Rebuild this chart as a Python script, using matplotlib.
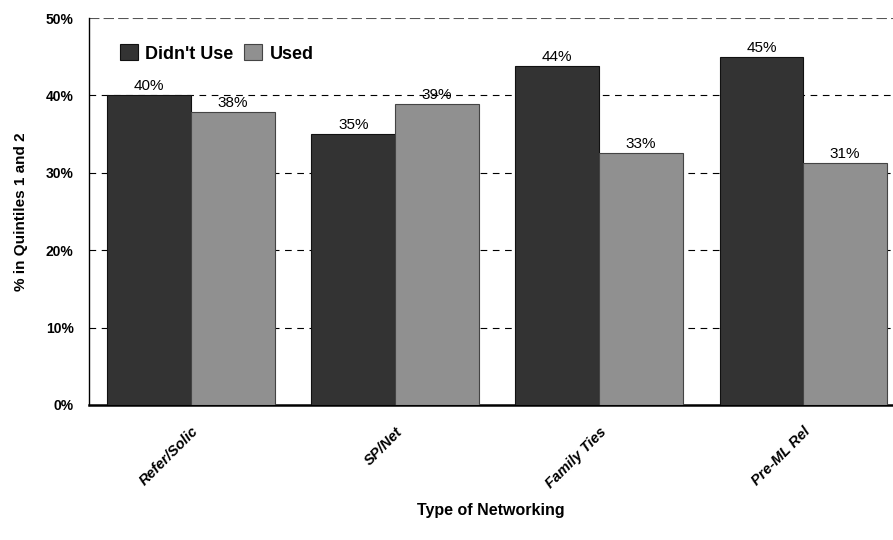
import numpy as np
import matplotlib.pyplot as plt

categories = ["Refer/Solic", "SP/Net", "Family Ties", "Pre-ML Rel"]
didnt_use = [40.0, 35.0, 43.8, 45.0]
used = [37.9, 38.9, 32.6, 31.3]
yticks = [0, 10, 20, 30, 40, 50]

plt.rcParams['font.family'] = ['Liberation Sans', 'DejaVu Sans']

fig = plt.figure(figsize=(8.93, 5.4), dpi=100)
ax = fig.add_axes([89 / 893, 1 - 405 / 540, 804 / 893, (405 - 18) / 540])

x = np.arange(len(categories))
w = 0.41
b1 = ax.bar(x - w / 2, didnt_use, w, color='#333333', edgecolor='#111111', linewidth=0.8,
            label="Didn't Use", zorder=3)
b2 = ax.bar(x + w / 2, used, w, color='#909090', edgecolor='#444444', linewidth=0.8,
            label="Used", zorder=3)

for bars, vals in [(b1, didnt_use), (b2, used)]:
    for r, v in zip(bars, vals):
        ax.text(r.get_x() + r.get_width() / 2, v + 0.25, f"{round(v)}%",
                ha='center', va='bottom', fontsize=11, zorder=4)

ax.set_xlim(-0.5, 3.44)
ax.set_ylim(0, 50)
ax.set_yticks(yticks)
ax.set_yticklabels([f"{t}%" for t in yticks], fontweight='bold', fontsize=10)
for t in yticks[1:-1]:
    ax.axhline(t, color='black', linestyle=(0, (6, 5)), linewidth=0.8, zorder=1)
ax.axhline(50, color='#555555', linestyle=(0, (5, 2)), linewidth=1.5, zorder=1)

ax.set_xticks(x)
ax.set_xticklabels(categories, rotation=45, ha='right', rotation_mode='anchor',
                   fontweight='bold', fontstyle='italic', fontsize=10.5)
ax.tick_params(axis='y', length=0, pad=11)
ax.tick_params(axis='x', length=0, pad=14)

for s in ['top', 'right']:
    ax.spines[s].set_visible(False)
ax.spines['left'].set_linewidth(1.0)
ax.spines['bottom'].set_linewidth(1.8)

ax.set_ylabel("% in Quintiles 1 and 2", fontweight='bold', fontsize=11, labelpad=13)
ax.set_xlabel("Type of Networking", fontweight='bold', fontsize=11.5, labelpad=9)

ax.legend(loc='upper left', bbox_to_anchor=(0.025, 0.96), ncol=2, frameon=False,
          prop={'weight': 'bold', 'size': 13}, handlelength=1.0, handleheight=1.0,
          handletextpad=0.4, columnspacing=0.6, borderaxespad=0.2)

fig.savefig("out.png", dpi=100)
